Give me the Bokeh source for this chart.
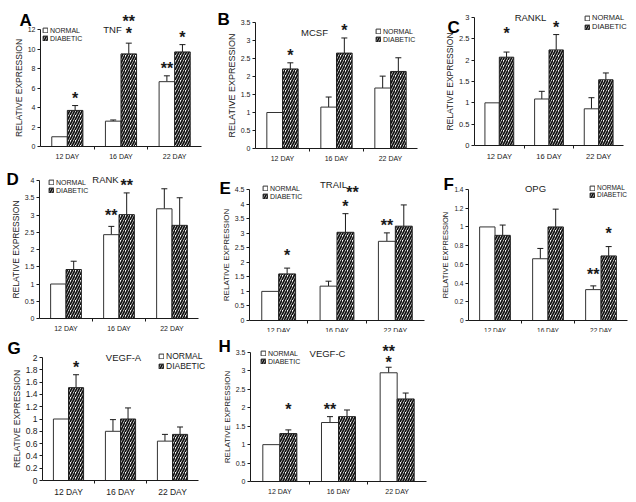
import numpy as np
from bokeh.plotting import figure
from bokeh.models import (Range1d, FixedTicker, ColumnDataSource, Whisker, TeeHead,
                          Legend, LegendItem, Label)
from bokeh.layouts import column, row
from bokeh.core.properties import value
from bokeh.embed import file_html
from bokeh.resources import INLINE

# ---------------- data ----------------
days = ["12 DAY", "16 DAY", "22 DAY"]
series_names = ["NORMAL", "DIABETIC"]

tnf_normal = [1.0, 2.6, 6.65]
tnf_normal_err = [0.0, 0.12, 0.6]
tnf_diabetic = [3.7, 9.5, 9.7]
tnf_diabetic_err = [0.5, 1.1, 0.75]
tnf_ticks = [0, 2, 4, 6, 8, 10, 12]
tnf_tick_labels = ["0", "2", "4", "6", "8", "10", "12"]
# significance marks: (day index, series, mark, stacking level, sideways nudge)
tnf_stars = [(0, "DIABETIC", "*", 0, 0), (1, "DIABETIC", "*", 0.2, 0),
             (1, "DIABETIC", "**", 1.2, 0), (2, "NORMAL", "**", 0, 0),
             (2, "DIABETIC", "*", 0, 0)]

mcsf_normal = [1.0, 1.15, 1.68]
mcsf_normal_err = [0.0, 0.28, 0.33]
mcsf_diabetic = [2.21, 2.65, 2.14]
mcsf_diabetic_err = [0.17, 0.42, 0.38]
mcsf_ticks = [0, 0.5, 1, 1.5, 2, 2.5, 3, 3.5]
mcsf_tick_labels = ["0", "0.5", "1", "1.5", "2", "2.5", "3", "3.5"]
mcsf_stars = [(0, "DIABETIC", "*", 0, 0), (1, "DIABETIC", "*", 0, 0)]

rankl_normal = [1.0, 1.09, 0.86]
rankl_normal_err = [0.0, 0.18, 0.26]
rankl_diabetic = [2.07, 2.24, 1.54]
rankl_diabetic_err = [0.12, 0.36, 0.16]
rankl_ticks = [0, 0.5, 1, 1.5, 2, 2.5, 3]
rankl_tick_labels = ["0", "0.5", "1", "1.5", "2", "2.5", "3"]
rankl_stars = [(0, "DIABETIC", "*", 1, 0), (1, "DIABETIC", "*", 0, 0)]

rank_normal = [1.0, 2.43, 3.18]
rank_normal_err = [0.0, 0.24, 0.58]
rank_diabetic = [1.42, 3.01, 2.7]
rank_diabetic_err = [0.24, 0.63, 0.8]
rank_ticks = [0, 0.5, 1, 1.5, 2, 2.5, 3, 3.5, 4]
rank_tick_labels = ["0", "0.5", "1", "1.5", "2", "2.5", "3", "3.5", "4"]
rank_stars = [(1, "NORMAL", "**", 0.3, 0), (1, "DIABETIC", "**", 0, 0)]

trail_normal = [1.0, 1.18, 2.72]
trail_normal_err = [0.0, 0.17, 0.29]
trail_diabetic = [1.6, 3.03, 3.24]
trail_diabetic_err = [0.2, 0.64, 0.73]
trail_ticks = [0, 0.5, 1, 1.5, 2, 2.5, 3, 3.5, 4, 4.5]
trail_tick_labels = ["0", "0.5", "1", "1.5", "2", "2.5", "3", "3.5", "4", "4.5"]
trail_stars = [(0, "DIABETIC", "*", 0.5, 0), (1, "DIABETIC", "*", 0, 0),
               (1, "DIABETIC", "**", 1.2, 7), (2, "NORMAL", "**", 0, 0)]

opg_normal = [1.0, 0.66, 0.33]
opg_normal_err = [0.0, 0.11, 0.04]
opg_diabetic = [0.91, 1.0, 0.69]
opg_diabetic_err = [0.11, 0.19, 0.1]
opg_ticks = [0, 0.2, 0.4, 0.6, 0.8, 1, 1.2, 1.4]
opg_tick_labels = ["0", "0.2", "0.4", "0.6", "0.8", "1", "1.2", "1.4"]
opg_stars = [(2, "NORMAL", "**", 0.4, 0), (2, "DIABETIC", "*", 0.5, 0)]

vegfa_normal = [1.0, 0.8, 0.64]
vegfa_normal_err = [0.0, 0.19, 0.11]
vegfa_diabetic = [1.51, 1.0, 0.75]
vegfa_diabetic_err = [0.21, 0.18, 0.12]
vegfa_ticks = [0, 0.2, 0.4, 0.6, 0.8, 1, 1.2, 1.4, 1.6, 1.8, 2]
vegfa_tick_labels = ["0", "0.2", "0.4", "0.6", "0.8", "1", "1.2", "1.4", "1.6", "1.8", "2"]
vegfa_stars = [(0, "DIABETIC", "*", 0, 0)]

vegfc_normal = [1.0, 1.6, 2.95]
vegfc_normal_err = [0.0, 0.16, 0.15]
vegfc_diabetic = [1.3, 1.76, 2.24]
vegfc_diabetic_err = [0.1, 0.18, 0.16]
vegfc_ticks = [0, 0.5, 1, 1.5, 2, 2.5, 3, 3.5]
vegfc_tick_labels = ["0", "0.5", "1", "1.5", "2", "2.5", "3", "3.5"]
vegfc_stars = [(0, "DIABETIC", "*", 1.1, 0), (1, "NORMAL", "**", 0, 0),
               (2, "NORMAL", "*", -0.2, 0), (2, "NORMAL", "**", 0.75, 0)]

# ---------------- layout / style (page pixel positions) ----------------
FONT = "Liberation Sans"
BAR_W = 0.29
INK = "#1a1a1a"
STAR_GAP = 7      # px between error-bar top and first star anchor
STAR_STEP = 12    # px per stacking level

# box: figure rectangle; axes: (x of y-axis, x end of x-axis, y of top tick, y of zero line)
geom = {
    "A": dict(box=(0, 0, 210, 165), axes=(40, 201, 29, 146), fs=7, afs=8.5,
              letter=(19, 20), title=(112, 29), legend=(42, 26)),
    "B": dict(box=(210, 0, 428, 165), axes=(255, 417, 22, 148), fs=7, afs=9,
              letter=(217, 19), title=(314, 32), legend=(375, 27)),
    "C": dict(box=(428, 0, 636, 165), axes=(474, 623, 17, 145), fs=7.5, afs=8.5,
              letter=(447, 27), title=(530, 17), legend=(584, 13)),
    "D": dict(box=(0, 165, 212, 332), axes=(39, 198, 180, 318), fs=7, afs=8.5,
              letter=(6, 179), title=(105, 179), legend=(48, 178)),
    "E": dict(box=(212, 165, 430, 332), axes=(249, 424, 189, 320), fs=7, afs=8,
              letter=(219, 188), title=(333, 184), legend=(262, 184)),
    "F": dict(box=(430, 165, 636, 332), axes=(468, 627, 189, 320), fs=6.5, afs=7.5,
              letter=(443, 184), title=(535, 188), legend=(589, 184)),
    "G": dict(box=(0, 332, 215, 502), axes=(42, 198, 357, 480), fs=8.5, afs=8.5,
              letter=(7, 348), title=(123, 357), legend=(158, 351)),
    "H": dict(box=(215, 332, 440, 502), axes=(250, 426, 352, 481), fs=7, afs=8,
              letter=(218, 346), title=(327, 353), legend=(260, 349)),
}


def build(letter, gene, normal, normal_err, diabetic, diabetic_err, yticks, ylabels, stars):
    g = geom[letter]
    bl, bt, br, bb = g["box"]
    al, ar, at, ab = g["axes"]
    fs = g["fs"]
    n = len(days)
    ymax = yticks[-1]
    sx_ = (ar - al) / n
    sy_ = (ab - at) / ymax
    xr = Range1d(-(al - bl) / sx_, n + (br - ar) / sx_)
    yr = Range1d(-(bb - ab) / sy_, ymax + (at - bt) / sy_)
    p = figure(width=br - bl, height=bb - bt, x_range=xr, y_range=yr,
               output_backend="svg", toolbar_location=None, min_border=0)
    p.min_border_left = p.min_border_right = p.min_border_top = p.min_border_bottom = 0
    p.grid.visible = False
    p.outline_line_color = None
    p.background_fill_color = "white"
    p.border_fill_color = "white"

    centers = np.arange(n) + 0.5
    xn = centers - BAR_W / 2
    xd = centers + BAR_W / 2

    rn = p.vbar(x=xn, top=normal, width=BAR_W, fill_color="white",
                line_color="#333333", line_width=1)
    rd = p.vbar(x=xd, top=diabetic, width=BAR_W, fill_color="white",
                hatch_pattern="/", hatch_color="#111111", hatch_weight=1.7, hatch_scale=5,
                line_color="#222222", line_width=1)

    for xs, tops, errs in ((xn, normal, normal_err), (xd, diabetic, diabetic_err)):
        keep = [i for i, e in enumerate(errs) if e > 0]
        ws = ColumnDataSource(dict(base=[xs[i] for i in keep],
                                   lower=[tops[i] for i in keep],
                                   upper=[tops[i] + errs[i] for i in keep]))
        p.add_layout(Whisker(source=ws, base="base", lower="lower", upper="upper",
                             line_color=INK, line_width=1, lower_head=None,
                             upper_head=TeeHead(size=6, line_color=INK, line_width=1)))

    sx, sy, st, sdy, sdx = [], [], [], [], []
    for day_i, ser, lab, lev, nudge in stars:
        if ser == "NORMAL":
            sx.append(xn[day_i]); sy.append(normal[day_i] + normal_err[day_i])
        else:
            sx.append(xd[day_i]); sy.append(diabetic[day_i] + diabetic_err[day_i])
        st.append(lab)
        sdy.append(-STAR_GAP - STAR_STEP * lev)
        sdx.append(nudge)
    ss = ColumnDataSource(dict(x=sx, y=sy, text=st, dy=sdy, dx=sdx))
    p.text(x="x", y="y", text="text", x_offset="dx", y_offset="dy", source=ss,
           text_align="center", text_baseline="alphabetic",
           text_font=value(FONT), text_font_size="16px", text_font_style="bold",
           text_color=INK)

    # axes, pinned at the data origin
    xa = p.xaxis[0]
    xa.fixed_location = 0
    xa.bounds = (0, n)
    xa.ticker = FixedTicker(ticks=list(centers), minor_ticks=list(range(1, n)))
    xa.major_label_overrides = {float(c): d for c, d in zip(centers, days)}
    xa.major_tick_out = 0
    xa.major_tick_in = 0
    xa.minor_tick_out = 3
    xa.minor_tick_in = 0
    xa.minor_tick_line_color = INK
    xa.axis_line_color = INK
    xa.major_label_standoff = 3
    xa.major_label_text_font = FONT
    xa.major_label_text_font_size = f"{fs}px"
    xa.major_label_text_color = INK

    ya = p.yaxis[0]
    ya.fixed_location = 0
    ya.bounds = (0, ymax)
    ya.ticker = FixedTicker(ticks=yticks)
    ya.major_label_overrides = {float(t): s for t, s in zip(yticks, ylabels)}
    ya.major_tick_out = 3
    ya.major_tick_in = 0
    ya.minor_tick_out = 0
    ya.minor_tick_in = 0
    ya.axis_line_color = INK
    ya.major_tick_line_color = INK
    ya.major_label_standoff = 2
    ya.major_label_text_font = FONT
    ya.major_label_text_font_size = f"{fs}px"
    ya.major_label_text_color = INK
    ya.axis_label = "RELATIVE EXPRESSION"
    ya.axis_label_text_font = FONT
    ya.axis_label_text_font_style = "normal"
    ya.axis_label_text_font_size = f"{g['afs']}px"
    ya.axis_label_text_color = "#222222"
    ya.axis_label_standoff = 1

    # legend
    lh = round(fs * 1.15)
    lx, ly = g["legend"]
    leg = Legend(items=[LegendItem(label=series_names[0], renderers=[rn]),
                        LegendItem(label=series_names[1], renderers=[rd])],
                 location=(lx - bl, bb - ly - 2 * lh),
                 label_text_font=FONT, label_text_font_size=f"{fs}px",
                 label_text_color=INK, glyph_width=6, glyph_height=6,
                 label_height=lh, label_standoff=2, spacing=0, padding=0, margin=0,
                 border_line_color=None, background_fill_alpha=0)
    p.add_layout(leg)

    # gene name
    tx, ty = g["title"]
    p.add_layout(Label(x=tx - bl, y=bb - ty, x_units="screen", y_units="screen", text=gene,
                       text_align="center", text_baseline="middle", text_font=FONT,
                       text_font_size="9.5px", text_color=INK))
    # panel letter
    lx2, lb = g["letter"]
    p.add_layout(Label(x=lx2 - bl, y=bb - lb, x_units="screen", y_units="screen", text=letter,
                       text_align="left", text_baseline="alphabetic", text_font=FONT,
                       text_font_size="17px", text_font_style="bold", text_color="#000000"))
    return p


pA = build("A", "TNF", tnf_normal, tnf_normal_err, tnf_diabetic, tnf_diabetic_err,
           tnf_ticks, tnf_tick_labels, tnf_stars)
pB = build("B", "MCSF", mcsf_normal, mcsf_normal_err, mcsf_diabetic, mcsf_diabetic_err,
           mcsf_ticks, mcsf_tick_labels, mcsf_stars)
pC = build("C", "RANKL", rankl_normal, rankl_normal_err, rankl_diabetic, rankl_diabetic_err,
           rankl_ticks, rankl_tick_labels, rankl_stars)
pD = build("D", "RANK", rank_normal, rank_normal_err, rank_diabetic, rank_diabetic_err,
           rank_ticks, rank_tick_labels, rank_stars)
pE = build("E", "TRAIL", trail_normal, trail_normal_err, trail_diabetic, trail_diabetic_err,
           trail_ticks, trail_tick_labels, trail_stars)
pF = build("F", "OPG", opg_normal, opg_normal_err, opg_diabetic, opg_diabetic_err,
           opg_ticks, opg_tick_labels, opg_stars)
pG = build("G", "VEGF-A", vegfa_normal, vegfa_normal_err, vegfa_diabetic, vegfa_diabetic_err,
           vegfa_ticks, vegfa_tick_labels, vegfa_stars)
pH = build("H", "VEGF-C", vegfc_normal, vegfc_normal_err, vegfc_diabetic, vegfc_diabetic_err,
           vegfc_ticks, vegfc_tick_labels, vegfc_stars)

layout = column(row(pA, pB, pC, spacing=0), row(pD, pE, pF, spacing=0),
                row(pG, pH, spacing=0), spacing=0)

open("out.html", "w").write(file_html(layout, INLINE))
